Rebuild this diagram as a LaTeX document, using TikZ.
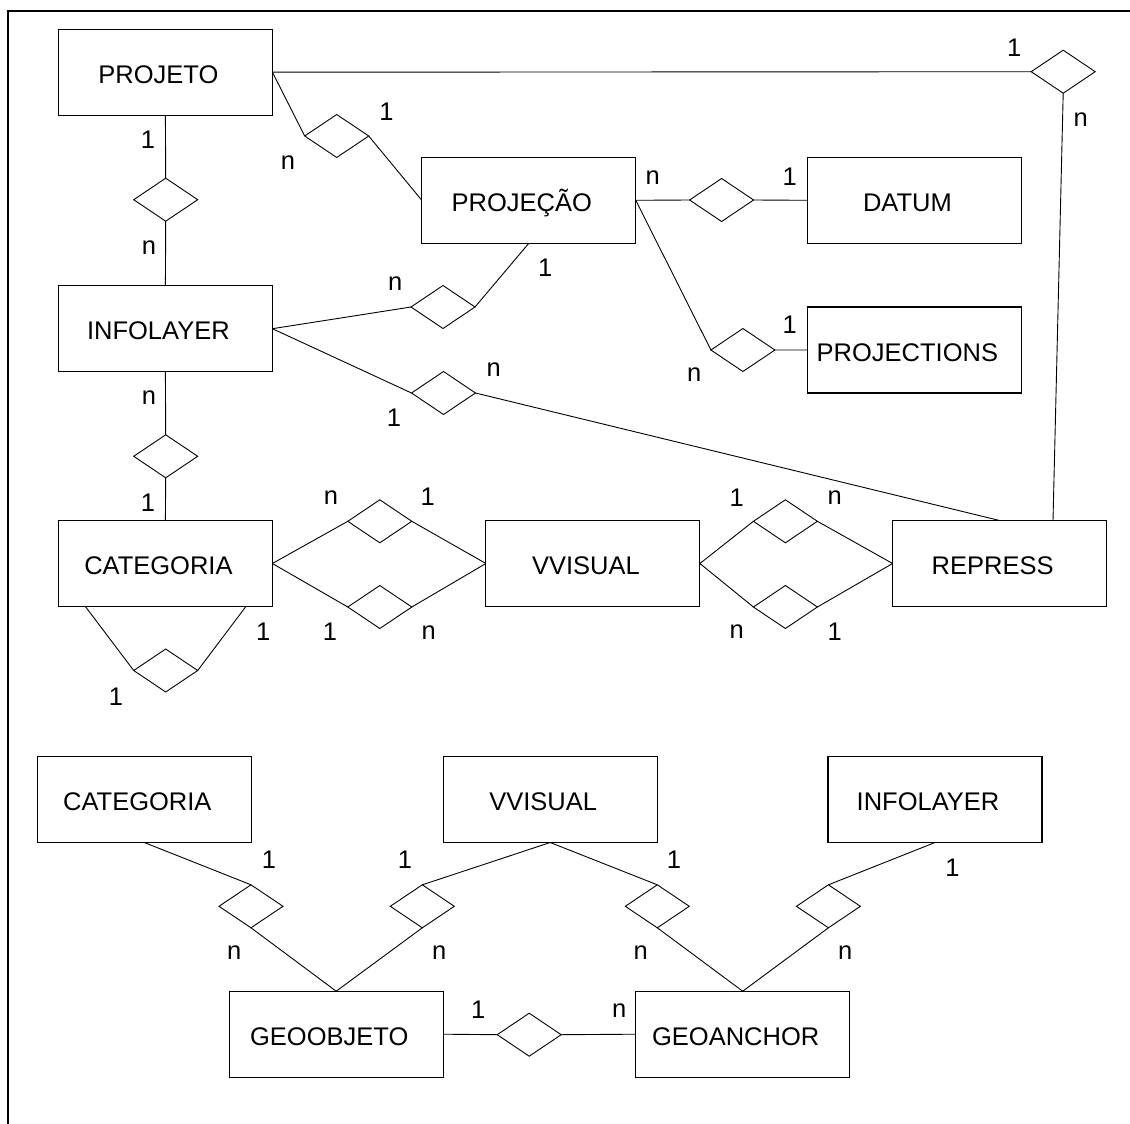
\documentclass[tikz,border=0pt]{standalone}
\usepackage{fontspec}
\setmainfont{Liberation Sans}
\usetikzlibrary{shapes.geometric}

\begin{document}
\begin{tikzpicture}[x=1pt, y=-1pt, font=\fontsize{25.5}{30}\selectfont,
    entity/.style={draw, line width=1.1pt, minimum width=214pt, minimum height=86pt,
        inner sep=0pt, outer sep=0pt, text height=22.3pt, text depth=0pt,
        execute at begin node={\hspace*{-14pt}}},
    rel/.style={draw, diamond, line width=0.9pt, minimum width=64pt, minimum height=43pt,
        inner sep=0pt, outer sep=0pt},
    link/.style={line width=0.9pt},
    card/.style={inner sep=0pt, outer sep=0pt}]
    \useasboundingbox (0,0) rectangle (1130,1124);
    % frame
    \draw[line width=2.2pt] (7.7,1135) -- (7.7,11) -- (1140,11);

    % entities
    \node[entity] (projeto) at (165.4,72.2) {PROJETO};
    \node[entity] (projecao) at (528.8,200.3) {PROJEÇÃO};
    \node[entity] (datum) at (914.4,200.3) {DATUM};
    \node[entity] (projections) at (914.4,350) {PROJECTIONS};
    \node[entity] (infolayer) at (165.4,328.7) {INFOLAYER};
    \node[entity] (categoria) at (165.4,563.5) {CATEGORIA};
    \node[entity] (vvisual) at (592.9,563.5) {VVISUAL};
    \node[entity] (repress) at (999.6,563.5) {REPRESS};
    \node[entity] (categoriaB) at (144.3,799.5) {CATEGORIA};
    \node[entity] (vvisualB) at (550.2,799.5) {VVISUAL};
    \node[entity] (infolayerB) at (935,799.5) {INFOLAYER};
    \node[entity] (geoobjeto) at (336.2,1034.2) {GEOOBJETO};
    \node[entity] (geoanchor) at (742.7,1034.2) {GEOANCHOR};

    % relationships
    \node[rel] (rProjInf) at (165.7,199.7) {};
    \node[rel] (rProjProj) at (336.7,136) {};
    \node[rel] (rProjRep) at (1063.2,71.7) {};
    \node[rel] (rDatum) at (721.6,200) {};
    \node[rel] (rProjs) at (742.9,350) {};
    \node[rel] (rInfProj) at (443,307) {};
    \node[rel] (rInfRep) at (443.5,393) {};
    \node[rel] (rInfCat) at (165.7,456.3) {};
    \node[rel] (rCatVisA) at (379.8,521.3) {};
    \node[rel] (rCatVisB) at (379.8,607) {};
    \node[rel] (rCatCat) at (165.7,670.5) {};
    \node[rel] (rVisRepA) at (785.4,521.3) {};
    \node[rel] (rVisRepB) at (785.4,607) {};
    \node[rel] (rCatGeo) at (251,906.3) {};
    \node[rel] (rVisGeo) at (422.3,906.3) {};
    \node[rel] (rVisAnc) at (657.3,906.3) {};
    \node[rel] (rInfAnc) at (828.4,906.3) {};
    \node[rel] (rGeoAnc) at (529.2,1034.7) {};

    % links
    \draw[link] (projeto.south) -- (rProjInf.north) (rProjInf.south) -- (infolayer.north);
    \draw[link] (projeto.east) -- (rProjProj.west) (rProjProj.east) -- (projecao.west);
    \draw[link] (projeto.east) -- (rProjRep.west) (rProjRep.south) -- ([xshift=53.4pt]repress.north);
    \draw[link] (projecao.east) -- (rDatum.west) (rDatum.east) -- (datum.west);
    \draw[link] (projecao.east) -- (rProjs.west) (rProjs.east) -- (projections.west);
    \draw[link] (infolayer.east) -- (rInfProj.west) (rInfProj.east) -- (projecao.south);
    \draw[link] (infolayer.east) -- (rInfRep.west) (rInfRep.east) -- (repress.north);
    \draw[link] (infolayer.south) -- (rInfCat.north) (rInfCat.south) -- (categoria.north);
    \draw[link] (categoria.east) -- (rCatVisA.west) (rCatVisA.east) -- (vvisual.west);
    \draw[link] (categoria.east) -- (rCatVisB.west) (rCatVisB.east) -- (vvisual.west);
    \draw[link] ([xshift=27pt]categoria.south west) -- (rCatCat.west)
        (rCatCat.east) -- ([xshift=-26.5pt]categoria.south east);
    \draw[link] (vvisual.east) -- (rVisRepA.west) (rVisRepA.east) -- (repress.west);
    \draw[link] (vvisual.east) -- (rVisRepB.west) (rVisRepB.east) -- (repress.west);
    \draw[link] (categoriaB.south) -- (rCatGeo.north) (rCatGeo.south) -- (geoobjeto.north);
    \draw[link] (vvisualB.south) -- (rVisGeo.north) (rVisGeo.south) -- (geoobjeto.north);
    \draw[link] (vvisualB.south) -- (rVisAnc.north) (rVisAnc.south) -- (geoanchor.north);
    \draw[link] (infolayerB.south) -- (rInfAnc.north) (rInfAnc.south) -- (geoanchor.north);
    \draw[link] (geoobjeto.east) -- (rGeoAnc.west) (rGeoAnc.east) -- (geoanchor.west);

    % cardinalities
    \foreach \t/\x/\y [count=\i] in {
        1/148/140, n/149/248, 1/386.5/112, n/288/163,
        1/1014.2/48, n/1080.8/120, n/652.8/178, 1/789.7/177,
        1/789.7/325, n/694.3/375, n/395.3/284, 1/545.3/268,
        n/493.6/370, 1/394/418, n/149/398, 1/148/502.7,
        n/331/498, 1/427.8/497, 1/329.9/632, n/428.6/633,
        1/263.3/632, 1/116/697, 1/736.8/498, n/834.8/498,
        n/736.8/632, 1/834.8/632, 1/269/860, n/234.2/953,
        1/404.9/860, n/439.3/953, 1/673.9/860, n/640.6/953,
        1/952.5/867.7, n/845.2/953, 1/478.3/1010, n/619.2/1011}
        \node[card] (card\i) at (\x,\y) {\t};
\end{tikzpicture}
\end{document}
